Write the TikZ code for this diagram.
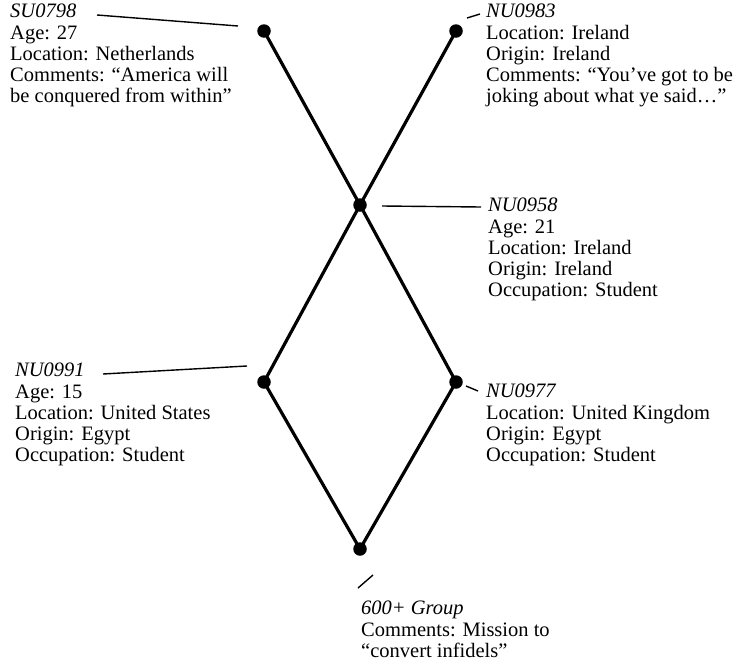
\documentclass[tikz,border=0pt]{standalone}
\usepackage{fontspec}
\setmainfont{Liberation Serif}
\begin{document}
\begin{tikzpicture}[x=1pt,y=-1pt,
  dot/.style={circle,fill=black,inner sep=0pt,minimum size=13.5pt},
  edge/.style={line width=3.2pt},
  leader/.style={line width=1.4pt},
  info/.style={anchor=north west,align=left,inner sep=0pt,font=\fontsize{20.5}{21.2}\selectfont}]
\useasboundingbox (0,0) rectangle (752,664);
% dots
\node[dot] (su) at (264,31) {};
\node[dot] (nu83) at (456,31) {};
\node[dot] (nu58) at (360,205) {};
\node[dot] (nu91) at (264,382) {};
\node[dot] (nu77) at (456,382) {};
\node[dot] (grp) at (360,549) {};
% edges
\draw[edge] (su.center) -- (nu58.center);
\draw[edge] (nu58.center) -- (nu77.center);
\draw[edge] (nu77.center) -- (grp.center);
\draw[edge] (grp.center) -- (nu91.center);
\draw[edge] (nu91.center) -- (nu58.center);
\draw[edge] (nu58.center) -- (nu83.center);
% labels
\node[info] (tsu) at (10,4) {\textit{SU0798}\\Age: 27\\Location: Netherlands\\Comments: “America will\\be conquered from within”};
\node[info] (t83) at (486,4) {\textit{NU0983}\\Location: Ireland\\Origin: Ireland\\Comments: “You’ve got to be\\joking about what ye said…”};
\node[info] (t58) at (488,198) {\textit{NU0958}\\Age: 21\\Location: Ireland\\Origin: Ireland\\Occupation: Student};
\node[info] (t91) at (15,363) {\textit{NU0991}\\Age: 15\\Location: United States\\Origin: Egypt\\Occupation: Student};
\node[info] (t77) at (486,384) {\textit{NU0977}\\Location: United Kingdom\\Origin: Egypt\\Occupation: Student};
\node[info] (tgrp) at (361,601) {\textit{600+ Group}\\Comments: Mission to\\“convert infidels”};
% leaders
\coordinate (l1a) at (97,15);  \coordinate (l1b) at (238,26);
\coordinate (l2a) at (467,18); \coordinate (l2b) at (480,14);
\coordinate (l3a) at (382,206); \coordinate (l3b) at (481,207);
\coordinate (l4a) at (103,374); \coordinate (l4b) at (247,366);
\coordinate (l5a) at (466,386); \coordinate (l5b) at (478,391);
\coordinate (l6a) at (358,588); \coordinate (l6b) at (373,575);
\draw[leader] (l1a) -- (l1b);
\draw[leader] (l2a) -- (l2b);
\draw[leader] (l3a) -- (l3b);
\draw[leader] (l4a) -- (l4b);
\draw[leader] (l5a) -- (l5b);
\draw[leader] (l6a) -- (l6b);
\end{tikzpicture}
\end{document}
